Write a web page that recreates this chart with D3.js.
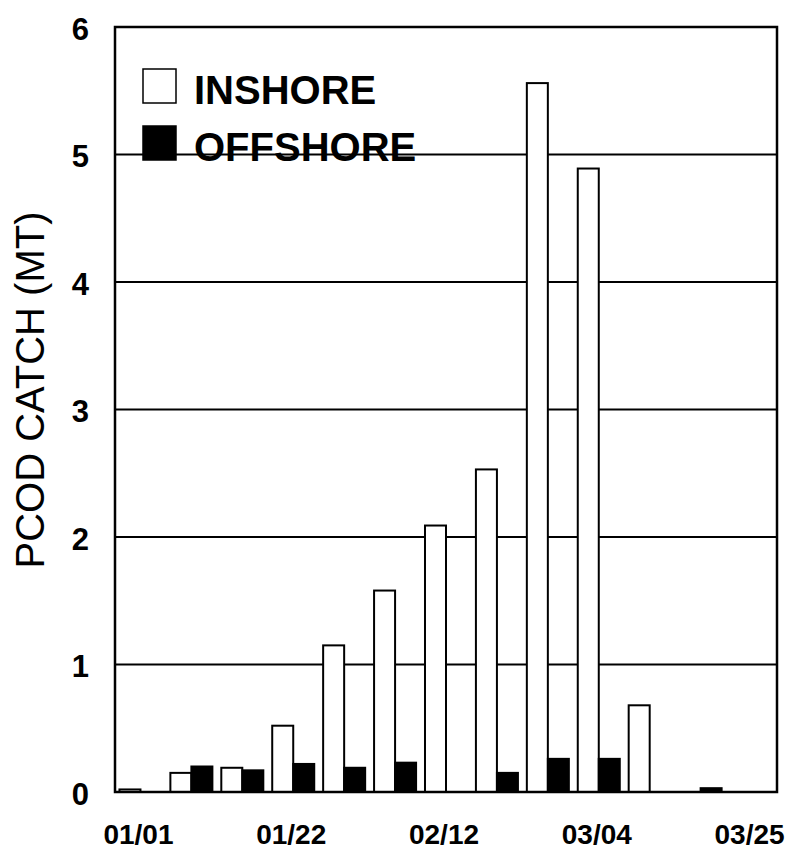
<!DOCTYPE html>
<html lang="en">
<head>
  <meta charset="UTF-8">
  <title>PCOD Catch, Inshore vs Offshore</title>
  <script src="https://d3js.org/d3.v7.min.js"></script>
  <style>
    body { margin: 0; background: white; font-family: "Liberation Sans", Arial, sans-serif; }
    .tick text { font-weight: bold; fill: black; }
  </style>
</head>
<body>
  <svg id="chart" width="796" height="851"></svg>

  <script>
    const dates = ["01/01", "01/08", "01/15", "01/22", "01/29", "02/05", "02/12",
                   "02/19", "02/26", "03/04", "03/11", "03/18", "03/25"];
    const inshore  = [0.02, 0.15, 0.19, 0.52, 1.15, 1.58, 2.09, 2.53, 5.56, 4.89, 0.68, 0, 0];
    const offshore = [0, 0.20, 0.17, 0.22, 0.19, 0.23, 0, 0.15, 0.26, 0.26, 0, 0.03, 0];
    const seriesNames = ["INSHORE", "OFFSHORE"];
    const yTicks = [0, 1, 2, 3, 4, 5, 6];

    const svg = d3.select("#chart");
    const margin = { top: 27, right: 19, bottom: 59, left: 115 };
    const width = +svg.attr("width") - margin.left - margin.right;
    const height = +svg.attr("height") - margin.top - margin.bottom;
    const g = svg.append("g").attr("transform", `translate(${margin.left},${margin.top})`);

    const data = dates.map((d, i) => ({ date: d, values: [inshore[i], offshore[i]] }));

    const x = d3.scaleBand()
      .domain(dates)
      .range([0, width])
      .paddingInner(0.175)
      .paddingOuter(0.0875);

    const xSub = d3.scaleBand()
      .domain(seriesNames)
      .range([0, x.bandwidth()]);

    const y = d3.scaleLinear()
      .domain([0, 6])
      .range([height, 0]);

    const fills = { INSHORE: "white", OFFSHORE: "black" };

    // gridlines
    g.selectAll(".grid")
      .data(yTicks.slice(1))
      .enter().append("line")
      .attr("x1", 0).attr("x2", width)
      .attr("y1", d => y(d)).attr("y2", d => y(d))
      .attr("stroke", "black")
      .attr("stroke-width", 2);

    // bars
    const groups = g.selectAll(".grp")
      .data(data)
      .enter().append("g")
      .attr("transform", d => `translate(${x(d.date)},0)`);

    groups.selectAll("rect")
      .data(d => d.values.map((v, k) => ({ key: seriesNames[k], value: v })).filter(e => e.value > 0))
      .enter().append("rect")
      .attr("x", d => xSub(d.key))
      .attr("width", xSub.bandwidth())
      .attr("y", d => y(d.value))
      .attr("height", d => height - y(d.value))
      .attr("fill", d => fills[d.key])
      .attr("stroke", "black")
      .attr("stroke-width", 2);

    // frame
    g.append("rect")
      .attr("width", width).attr("height", height)
      .attr("fill", "none")
      .attr("stroke", "black")
      .attr("stroke-width", 2.5);

    // axes
    const xAxis = g.append("g")
      .attr("transform", `translate(0,${height})`)
      .call(d3.axisBottom(x)
        .tickValues(dates.filter((d, i) => i % 3 === 0))
        .tickSize(0)
        .tickPadding(32));
    xAxis.select(".domain").remove();
    xAxis.selectAll("text").style("font-size", "28px").attr("dx", "-2");

    const yAxis = g.append("g")
      .call(d3.axisLeft(y)
        .tickValues(yTicks)
        .tickFormat(d3.format("d"))
        .tickSize(0)
        .tickPadding(26));
    yAxis.select(".domain").remove();
    yAxis.selectAll("text").style("font-size", "31px").attr("dy", "0.4em");

    // y title
    svg.append("text")
      .attr("transform", "translate(44,390) rotate(-90)")
      .attr("text-anchor", "middle")
      .style("font-size", "40px")
      .text("PCOD CATCH (MT)");

    // legend
    const legend = g.append("g").attr("transform", "translate(28,42)");
    seriesNames.forEach((name, i) => {
      const row = legend.append("g").attr("transform", `translate(0,${i * 57})`);
      row.append("rect")
        .attr("width", 33).attr("height", 34)
        .attr("fill", fills[name])
        .attr("stroke", "black")
        .attr("stroke-width", 1.5);
      row.append("text")
        .attr("x", 51).attr("y", 35)
        .style("font-size", "40px")
        .style("font-weight", "bold")
        .text(name);
    });
  </script>
</body>
</html>
